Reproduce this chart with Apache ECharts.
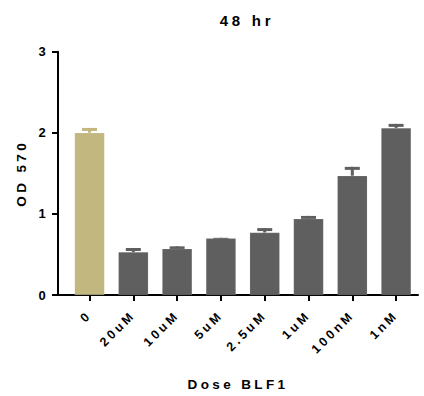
<!DOCTYPE html>
<html>
<head>
<meta charset="utf-8">
<script src="https://cdn.jsdelivr.net/npm/echarts@6/dist/echarts.min.js"></script>
<style>
  html, body { margin: 0; padding: 0; background: #fff; }
  #main { width: 424px; height: 396px; }
  #main text { letter-spacing: 0.25em; }
</style>
</head>
<body>
<div id="main"></div>
<script>
var categories = ['0', '20uM', '10uM', '5uM', '2.5uM', '1uM', '100nM', '1nM'];
var means = [2.00, 0.53, 0.57, 0.70, 0.77, 0.94, 1.47, 2.06];
var sem = [0.06, 0.05, 0.03, 0.005, 0.055, 0.035, 0.11, 0.05];
var yTicks = [0, 1, 2, 3];

var colors = categories.map(function (c, i) { return i === 0 ? '#C2B77E' : '#5F5F5F'; });
var font = '"Liberation Sans", Arial, sans-serif';

var barData = means.map(function (v, i) {
  return { value: [i, v], itemStyle: { color: colors[i] } };
});
var errData = means.map(function (v, i) { return [i, v, v + sem[i]]; });

var chart = echarts.init(document.getElementById('main'), null, { renderer: 'svg' });
chart.setOption({
  animation: false,
  title: {
    text: '48 hr',
    left: 242, top: 8, textAlign: 'center',
    textStyle: { fontFamily: font, fontWeight: 'bold', fontSize: 15, color: '#000' }
  },
  grid: { left: 58, right: 6, top: 51.7, bottom: 97.3 },
  xAxis: {
    type: 'value', min: -0.72, max: 7.5,
    name: 'Dose BLF1', nameLocation: 'middle', nameGap: 82,
    nameTextStyle: { fontFamily: font, fontWeight: 'bold', fontSize: 13.5, color: '#000' },
    axisLine: { show: true, lineStyle: { color: '#000', width: 2 } },
    axisTick: { show: true, length: 6, lineStyle: { color: '#000', width: 2 }, customValues: categories.map(function (c, i) { return i; }) },
    axisLabel: {
      customValues: categories.map(function (c, i) { return i; }),
      rotate: 45, margin: 18,
      fontFamily: font, fontWeight: 'bold', fontSize: 12.5, color: '#000',
      formatter: function (v) { return categories[Math.round(v)]; }
    },
    splitLine: { show: false }
  },
  yAxis: {
    type: 'value', min: 0, max: 3, interval: 1,
    name: 'OD 570', nameLocation: 'middle', nameGap: 30,
    nameTextStyle: { fontFamily: font, fontWeight: 'bold', fontSize: 13.5, color: '#000' },
    axisLine: { show: true, onZero: false, lineStyle: { color: '#000', width: 2 } },
    axisTick: { show: true, length: 6, lineStyle: { color: '#000', width: 2 } },
    axisLabel: {
      margin: 9, fontFamily: font, fontWeight: 'bold', fontSize: 13, color: '#000',
      customValues: yTicks
    },
    splitLine: { show: false }
  },
  series: [
    {
      type: 'bar', data: barData, barWidth: 30,
      itemStyle: { borderColor: 'rgba(255,255,255,0.25)', borderWidth: 0.5 }
    },
    {
      type: 'custom', data: errData, z: 1,
      renderItem: function (params, api) {
        var i = api.value(0);
        var base = api.coord([i, api.value(1)]);
        var top = api.coord([i, api.value(2)]);
        var c = colors[params.dataIndex];
        return {
          type: 'group',
          children: [
            { type: 'rect', shape: { x: base[0] - 1.5, y: top[1], width: 3, height: base[1] - top[1] }, style: { fill: c } },
            { type: 'rect', shape: { x: base[0] - 7.5, y: top[1], width: 15, height: 3 }, style: { fill: c } }
          ]
        };
      }
    }
  ]
});
</script>
</body>
</html>
